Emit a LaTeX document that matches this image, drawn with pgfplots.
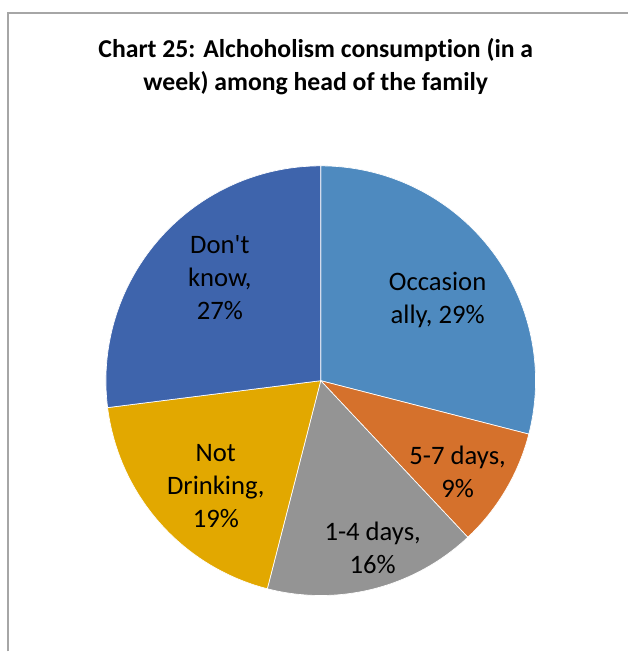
\documentclass[border=0pt]{standalone}
\usepackage{pgfplots}
\pgfplotsset{compat=1.18}
\usepackage{pgfplotstable}
\usepackage{fontspec}
\setmainfont{Carlito}[Ligatures={TeXOff,NoCommon}]
\definecolor{c0}{HTML}{4E8ABF}
\definecolor{c1}{HTML}{D5712C}
\definecolor{c2}{HTML}{949494}
\definecolor{c3}{HTML}{E2A800}
\definecolor{c4}{HTML}{3E64AC}
\definecolor{framegray}{HTML}{A6A6A6}
\pgfplotstableread[col sep=comma]{
label,value
Occasionally,29
5-7 days,9
1-4 days,16
Not Drinking,19
Don't know,27
}\piedata
\begin{document}
\begin{tikzpicture}
\begin{axis}[
  x=0.75pt, y=0.75pt,
  xmin=0, xmax=629, ymin=0, ymax=652,
  hide axis, clip=false,
]
\path (axis cs:0,0) rectangle (axis cs:629,652);
\draw[framegray, line width=0.8pt] (axis cs:8,0) -- (axis cs:8,639) -- (axis cs:629,639);
\def\cum{0}
\pgfplotsforeachungrouped \i in {0,...,4}{%
  \pgfplotstablegetelem{\i}{value}\of\piedata
  \let\v=\pgfplotsretval
  \pgfmathsetmacro\a{90-3.6*\cum}%
  \pgfmathsetmacro\b{90-3.6*(\cum+\v)}%
  \edef\temp{\noexpand\addplot[fill=c\i, draw=white, line width=0.5pt, domain=\b:\a, samples=80, variable=\noexpand\t]
    ({321+215*cos(\noexpand\t)},{271+215*sin(\noexpand\t)}) -- (axis cs:321,271) -- cycle;}%
  \temp
  \pgfmathsetmacro\cum{\cum+\v}%
}
\node[font=\fontsize{19.3}{24.75}\selectfont\bfseries, align=center] at (axis cs:316,585)
  {Chart 25: Alchoholism consumption (in a\\week) among head of the family};
\tikzset{lab/.style={font=\fontsize{20}{24.75}\selectfont, align=center}}
\node[lab] at (axis cs:438,352) {Occasion\\ally, 29\%};
\node[lab] at (axis cs:458,180) {5-7 days,\\9\%};
\node[lab] at (axis cs:373,104) {1-4 days,\\16\%};
\node[lab] at (axis cs:216,166) {Not\\Drinking,\\19\%};
\node[lab] at (axis cs:220,374) {Don't\\know,\\27\%};
\end{axis}
\end{tikzpicture}
\end{document}
